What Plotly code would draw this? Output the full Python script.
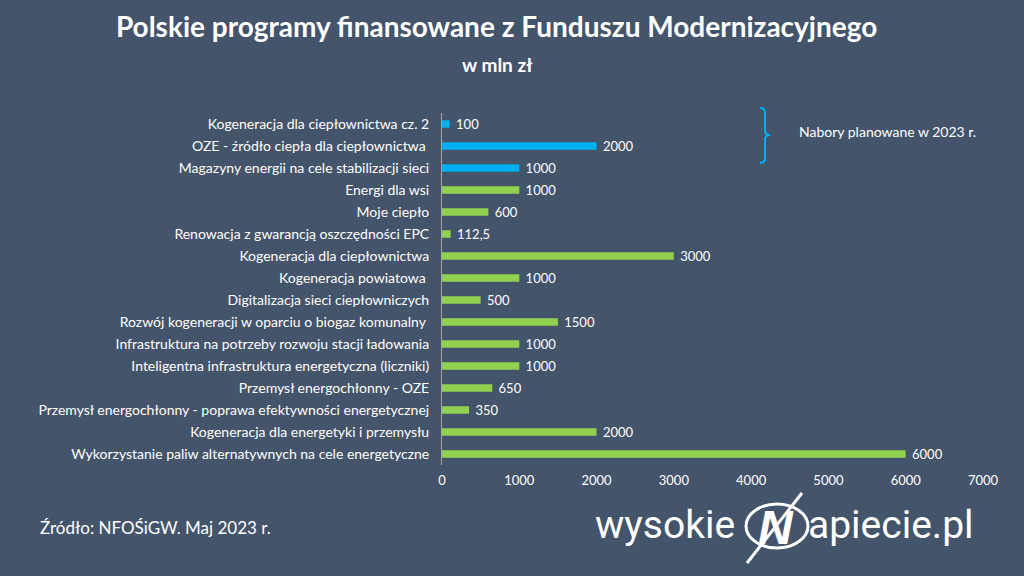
import plotly.graph_objects as go

categories = [
    "Kogeneracja dla ciepłownictwa cz. 2",
    "OZE - źródło ciepła dla ciepłownictwa ",
    "Magazyny energii na cele stabilizacji sieci",
    "Energi dla wsi",
    "Moje ciepło",
    "Renowacja z gwarancją oszczędności EPC",
    "Kogeneracja dla ciepłownictwa",
    "Kogeneracja powiatowa ",
    "Digitalizacja sieci ciepłowniczych",
    "Rozwój kogeneracji w oparciu o biogaz komunalny ",
    "Infrastruktura na potrzeby rozwoju stacji ładowania",
    "Inteligentna infrastruktura energetyczna (liczniki)",
    "Przemysł energochłonny - OZE",
    "Przemysł energochłonny - poprawa efektywności energetycznej",
    "Kogeneracja dla energetyki i przemysłu",
    "Wykorzystanie paliw alternatywnych na cele energetyczne",
]
values = [100, 2000, 1000, 1000, 600, 112.5, 3000, 1000, 500, 1500, 1000, 1000, 650, 350, 2000, 6000]
value_labels = ["100", "2000", "1000", "1000", "600", "112,5", "3000", "1000", "500", "1500",
                "1000", "1000", "650", "350", "2000", "6000"]
planned = [True, True, True] + [False] * 13
x_ticks = [0, 1000, 2000, 3000, 4000, 5000, 6000, 7000]

BG = "#44546A"
BLUE = "#00B0F0"
GREEN = "#92D050"
FONT = "Lato"

colors = [BLUE if p else GREEN for p in planned]

fig = go.Figure()
fig.add_trace(go.Bar(
    y=categories, x=values, orientation="h",
    marker=dict(color=colors, line=dict(width=0)),
    text=[" " + t for t in value_labels], textposition="outside", cliponaxis=False,
    constraintext="none",
    textfont=dict(color="white", size=13, family=FONT),
    outsidetextfont=dict(color="white", size=13, family=FONT),
    hoverinfo="x+y",
))

fig.update_layout(
    width=1024, height=576,
    paper_bgcolor=BG, plot_bgcolor=BG,
    margin=dict(l=442, r=41, t=113, b=111),
    bargap=0.66,
    showlegend=False,
    font=dict(family=FONT, color="white", size=13),
    xaxis=dict(range=[0, 7000], tickvals=x_ticks, ticktext=[str(t) for t in x_ticks],
               showgrid=False, zeroline=False, showline=False,
               tickfont=dict(size=13, color="white"), ticks="", ticklabelstandoff=6),
    yaxis=dict(autorange="reversed", showgrid=False, zeroline=False,
               showline=True, linecolor="#A6A6A6", linewidth=1,
               ticks="", tickfont=dict(size=14, color="white"), ticklabelstandoff=9),
    title=dict(text="<b>Polskie programy finansowane z Funduszu Modernizacyjnego</b>",
               x=0.485, xanchor="center", y=0.952, yanchor="middle",
               font=dict(size=28, color="white", family=FONT)),
)


def px_x(px):
    return (px - 442) / 541


def px_y(py):
    return (576 - 111 - py) / 352


# subtitle
fig.add_annotation(text="<b>w mln zł</b>", xref="paper", yref="paper",
                   x=px_x(497), y=px_y(64), showarrow=False,
                   xanchor="center", yanchor="middle",
                   font=dict(size=19, color="white", family=FONT))

# bracket for planned programmes
bx = 765
fig.add_shape(type="path", xref="paper", yref="paper",
              path=(f"M {px_x(bx-5)} {px_y(108)} Q {px_x(bx)} {px_y(108)} {px_x(bx)} {px_y(113)} "
                    f"L {px_x(bx)} {px_y(130)} Q {px_x(bx)} {px_y(135)} {px_x(bx+5)} {px_y(135)} "
                    f"Q {px_x(bx)} {px_y(135)} {px_x(bx)} {px_y(140)} "
                    f"L {px_x(bx)} {px_y(158)} Q {px_x(bx)} {px_y(163)} {px_x(bx-5)} {px_y(163)}"),
              line=dict(color=BLUE, width=2))
fig.add_annotation(text="Nabory planowane w 2023 r.", xref="paper", yref="paper",
                   x=px_x(797), y=px_y(131), xanchor="left", yanchor="middle", showarrow=False,
                   font=dict(size=14, color="white", family=FONT))

# source
fig.add_annotation(text="Źródło: NFOŚiGW. Maj 2023 r.", xref="paper", yref="paper",
                   x=px_x(38), y=px_y(527), xanchor="left", yanchor="middle", showarrow=False,
                   font=dict(size=17, color="white", family=FONT))

# logo
LOGO_FONT = dict(size=39, color="white", family="Roboto", weight=400)
fig.add_annotation(text="wysokie", xref="paper", yref="paper",
                   x=px_x(737), y=px_y(525), xanchor="right", yanchor="middle", showarrow=False,
                   font=LOGO_FONT)
fig.add_shape(type="circle", xref="paper", yref="paper",
              x0=px_x(746), x1=px_x(808), y0=px_y(504), y1=px_y(548),
              line=dict(color="white", width=3))
fig.add_annotation(text="<b><i>N</i></b>", xref="paper", yref="paper",
                   x=px_x(776), y=px_y(527), xanchor="center", yanchor="middle", showarrow=False,
                   font=dict(size=48, color="white", family="Liberation Sans"))
fig.add_shape(type="line", xref="paper", yref="paper",
              x0=px_x(802), y0=px_y(493), x1=px_x(747), y1=px_y(563),
              line=dict(color="white", width=3))
fig.add_annotation(text="apiecie.pl", xref="paper", yref="paper",
                   x=px_x(806), y=px_y(525), xanchor="left", yanchor="middle", showarrow=False,
                   font=LOGO_FONT)

fig.write_html("out.html")
